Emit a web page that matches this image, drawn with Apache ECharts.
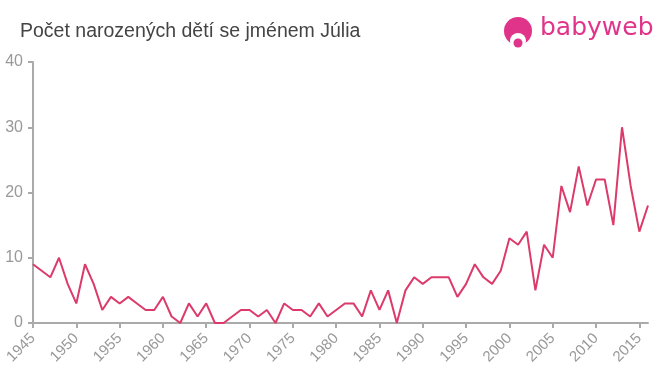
<!DOCTYPE html>
<html><head><meta charset="utf-8">
<script src="https://cdn.jsdelivr.net/npm/echarts@6/dist/echarts.min.js"></script>
<style>html,body{margin:0;padding:0;background:#fff}#c{width:660px;height:375px}</style>
</head><body><div id="c"></div>
<script>
const years = [];
for (let y = 1945; y <= 2016; y++) years.push(String(y));
const births = [9,8,7,10,6,3,9,6,2,4,3,4,3,2,2,4,1,0,3,1,3,0,0,1,2,2,1,2,0,3,2,2,1,3,1,2,3,3,1,5,2,5,0,5,7,6,7,7,7,4,6,9,7,6,8,13,12,14,5,12,10,21,17,24,18,22,22,15,30,21,14,18];
const yTicks = [0,10,20,30,40];
const titleText = 'Počet narozených dětí se jménem Júlia';
const logoText = 'babyweb';

const chart = echarts.init(document.getElementById('c'), null, {renderer:'canvas'});
chart.setOption({
  animation:false,
  title:{text:titleText,left:15,top:17,textStyle:{fontFamily:'Liberation Sans, Arial, sans-serif',fontSize:19.5,fontWeight:'normal',color:'#444'}},
  grid:{left:33,right:12,top:62,bottom:52,containLabel:false},
  xAxis:{type:'category',data:years,boundaryGap:false,
    axisLine:{lineStyle:{color:'#aaa',width:2}},
    axisTick:{interval:4,length:5,lineStyle:{color:'#aaa',width:2}},
    axisLabel:{interval:4,rotate:45,color:'#999',fontSize:15,fontFamily:'Liberation Sans, Arial, sans-serif',margin:13},
    splitLine:{show:false}},
  yAxis:{type:'value',min:yTicks[0],max:yTicks[yTicks.length-1],interval:10,
    axisLine:{show:true,lineStyle:{color:'#aaa',width:2}},
    axisTick:{show:true,length:5,lineStyle:{color:'#aaa',width:2}},
    axisLabel:{color:'#999',fontSize:16,fontFamily:'Liberation Sans, Arial, sans-serif',margin:10},
    splitLine:{show:false}},
  series:[{type:'line',data:births,showSymbol:false,lineStyle:{color:'#dc3a6a',width:2},itemStyle:{color:'#dc3a6a'}}],
  graphic:[
    {type:'circle',shape:{cx:518,cy:31,r:14},style:{fill:'#e0348a'}},
    {type:'circle',shape:{cx:518,cy:41,r:8},style:{fill:'#fff'}},
    {type:'circle',shape:{cx:518,cy:43,r:4.5},style:{fill:'#e0348a'}},
    {type:'text',left:540,top:16,style:{text:logoText,fontSize:25,fontFamily:'DejaVu Sans, sans-serif',fill:'#e0348a'}}
  ]
});
</script></body></html>
